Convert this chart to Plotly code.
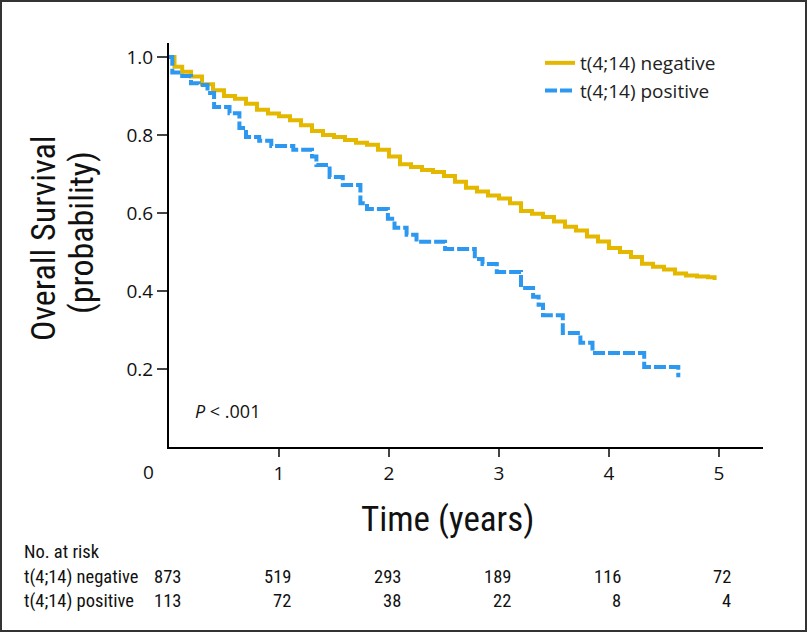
import plotly.graph_objects as go

# Kaplan-Meier estimates
neg_time = [0, 0.05, 0.12, 0.2, 0.3, 0.4, 0.5, 0.6, 0.7, 0.8, 0.9, 1.0, 1.1, 1.2, 1.3, 1.4,
            1.5, 1.6, 1.7, 1.8, 1.9, 2.0, 2.1, 2.2, 2.3, 2.4, 2.5, 2.6, 2.7, 2.8, 2.9, 3.0,
            3.1, 3.2, 3.3, 3.4, 3.5, 3.6, 3.7, 3.8, 3.9, 4.0, 4.1, 4.2, 4.3, 4.4, 4.5, 4.6,
            4.7, 4.8, 4.9, 4.96]
neg_surv = [1.0, 0.975, 0.962, 0.95, 0.93, 0.915, 0.9, 0.893, 0.88, 0.865, 0.855, 0.848,
            0.838, 0.825, 0.81, 0.8, 0.795, 0.787, 0.78, 0.775, 0.762, 0.745, 0.725, 0.718,
            0.71, 0.705, 0.695, 0.68, 0.665, 0.655, 0.645, 0.637, 0.625, 0.605, 0.598, 0.59,
            0.578, 0.565, 0.555, 0.54, 0.527, 0.51, 0.5, 0.487, 0.47, 0.462, 0.455, 0.445,
            0.44, 0.437, 0.435, 0.428]

pos_time = [0, 0.03, 0.12, 0.2, 0.27, 0.35, 0.41, 0.55, 0.64, 0.70, 0.82, 0.93, 1.13, 1.30,
            1.34, 1.46, 1.58, 1.74, 1.80, 1.99, 2.05, 2.16, 2.25, 2.51, 2.78, 2.85, 2.98,
            3.20, 3.31, 3.36, 3.40, 3.58, 3.74, 3.85, 4.32, 4.63]
pos_surv = [1.0, 0.96, 0.951, 0.933, 0.928, 0.908, 0.872, 0.856, 0.818, 0.795, 0.785, 0.772,
            0.762, 0.745, 0.723, 0.692, 0.672, 0.625, 0.610, 0.585, 0.562, 0.544, 0.526,
            0.508, 0.482, 0.469, 0.449, 0.408, 0.385, 0.365, 0.338, 0.292, 0.267, 0.241,
            0.205, 0.179]

risk_times = [0, 1, 2, 3, 4, 5]
risk_neg = [873, 519, 293, 189, 116, 72]
risk_pos = [113, 72, 38, 22, 8, 4]
group_labels = ["t(4;14) negative", "t(4;14) positive"]

y_ticks = [0.2, 0.4, 0.6, 0.8, 1.0]
y_ticktext = ["0.2", "0.4", "0.6", "0.8", "1.0"]
x_ticks = [1, 2, 3, 4, 5]

YELLOW = "#E5B800"
BLUE = "#2C98F0"
COND = "Roboto Condensed, Liberation Sans Narrow, Arial Narrow, DejaVu Sans Condensed, sans-serif"
REG = "Open Sans, Roboto, Arial, sans-serif"

fig = go.Figure()
fig.add_trace(go.Scatter(x=neg_time, y=neg_surv, mode="lines", line_shape="hv",
                         name=group_labels[0], line=dict(color=YELLOW, width=4)))
fig.add_trace(go.Scatter(x=pos_time, y=pos_surv, mode="lines", line_shape="hv",
                         name=group_labels[1],
                         line=dict(color=BLUE, width=4, dash="12px,3px")))

L, T, W, H = 169, 43, 809, 634
PW, PH = 594, 404


def px(xp):
    return (xp - L) / PW


def py(yp):
    return (T + PH - yp) / PH


fig.update_layout(
    width=W, height=H,
    margin=dict(l=L, r=W - L - PW, t=T, b=H - T - PH),
    plot_bgcolor="white", paper_bgcolor="white",
    showlegend=True,
    legend=dict(x=px(540), y=py(44), xanchor="left", yanchor="top",
                font=dict(family=REG, size=19, color="#222"),
                bgcolor="rgba(0,0,0,0)", tracegroupgap=0),
    xaxis=dict(range=[0, PW / 110.0], tickvals=x_ticks, ticks="outside", ticklen=8,
               tickwidth=2, showline=True, linecolor="black", linewidth=2,
               showgrid=False, zeroline=False,
               tickfont=dict(family=REG, size=19, color="#111")),
    yaxis=dict(range=[0, PH / 390.0], tickvals=y_ticks, ticktext=y_ticktext,
               ticks="outside", ticklen=10, tickwidth=2, showline=True,
               linecolor="black", linewidth=2, showgrid=False, zeroline=False,
               tickfont=dict(family=REG, size=19, color="#111")),
)


def note(x, y, text, font, xanchor="center", textangle=0, xref="paper", xshift=0):
    return dict(x=x, y=y, xref=xref, yref="paper", text=text, showarrow=False,
                xanchor=xanchor, yanchor="middle", textangle=textangle,
                xshift=xshift, font=font)


ann = []
ann.append(note(px(148), py(472), "0", dict(family=REG, size=19, color="#111")))
ann.append(note(px(447), py(519), "Time (years)", dict(family=COND, size=35, color="#111")))
ann.append(note(px(43), py(238), "Overall Survival", dict(family=COND, size=34, color="#111"),
                textangle=-90))
ann.append(note(px(81), py(233), "(probability)", dict(family=COND, size=34, color="#111"),
                textangle=-90))
ann.append(note(px(193), py(411), "<i>P</i> < .001", dict(family=REG, size=18, color="#111"),
                xanchor="left"))
ann.append(note(px(22), py(552), "No. at risk", dict(family=COND, size=18.5, color="#111"),
                xanchor="left"))
for lab, row, yy in [(group_labels[0], risk_neg, 577), (group_labels[1], risk_pos, 601)]:
    ann.append(note(px(22), py(yy), lab, dict(family=COND, size=18.5, color="#111"),
                    xanchor="left"))
    for t, v in zip(risk_times, row):
        ann.append(note(t, py(yy), str(v), dict(family=COND, size=18.5, color="#111"),
                        xanchor="right", xref="x", xshift=14))
fig.update_layout(annotations=ann)

# outer frame
fig.add_shape(type="rect", xref="paper", yref="paper",
              x0=px(1), x1=px(806), y0=py(631), y1=py(1),
              line=dict(color="#333", width=2), fillcolor="rgba(0,0,0,0)")

fig.write_html("out.html", config={"displayModeBar": False},
               post_script="document.body.style.margin='0px';")
